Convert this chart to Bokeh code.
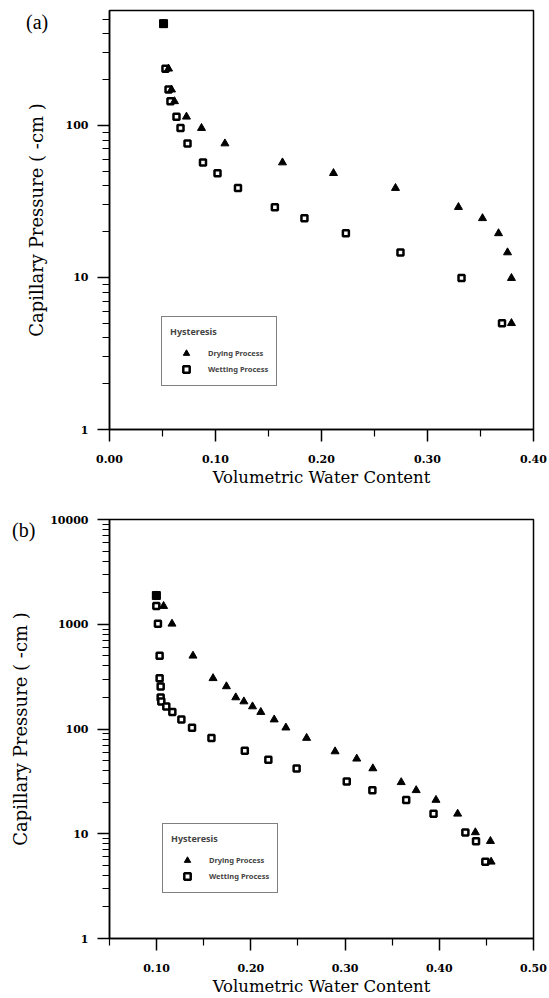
from bokeh.plotting import figure
from bokeh.models import Range1d, FixedTicker, NumeralTickFormatter, Legend, LegendItem, Div
from bokeh.layouts import column
from bokeh.embed import file_html
from bokeh.resources import INLINE

# ---------------- Panel (a) data ----------------
a_dry_x = [0.051, 0.0557, 0.0585, 0.0613, 0.0726, 0.0868, 0.1089, 0.1632, 0.2113, 0.2698,
           0.3292, 0.3519, 0.367, 0.3755, 0.3792, 0.3792]
a_dry_y = [467, 236, 172, 144, 114, 96, 76, 57, 48.5, 38.7, 29, 24.5, 19.5, 14.6, 9.9, 5.0]
a_wet_x = [0.051, 0.0528, 0.0557, 0.0575, 0.0632, 0.067, 0.0736, 0.0882, 0.1019, 0.1212,
           0.156, 0.1839, 0.223, 0.2745, 0.3321, 0.3703]
a_wet_y = [467, 236, 172, 144, 114, 96, 76, 57, 48.5, 38.7, 29, 24.5, 19.5, 14.6, 9.9, 5.0]

# ---------------- Panel (b) data ----------------
b_dry_x = [0.0997, 0.1074, 0.1163, 0.1386, 0.1599, 0.1741, 0.184, 0.1926, 0.2018, 0.2106,
           0.2248, 0.2372, 0.2592, 0.2894, 0.3124, 0.3295, 0.3596, 0.3755, 0.3965, 0.4195,
           0.4383, 0.4543, 0.455]
b_dry_y = [1880, 1490, 1010, 500, 305, 255, 200, 183, 164, 145, 123, 103, 82, 61, 52, 42,
           31, 26, 21, 15.5, 10.3, 8.5, 5.4]
b_wet_x = [0.0997, 0.0997, 0.1014, 0.1032, 0.1032, 0.1043, 0.1043, 0.105, 0.1103, 0.1167,
           0.1263, 0.1376, 0.1582, 0.1936, 0.2186, 0.2486, 0.3018, 0.329, 0.3649, 0.3939,
           0.4277, 0.439, 0.4489]
b_wet_y = [1880, 1490, 1010, 500, 305, 255, 200, 183, 164, 145, 123, 103, 82, 62, 51, 42,
           31.5, 26, 21, 15.5, 10.3, 8.5, 5.4]

a_xticks = [0.0, 0.1, 0.2, 0.3, 0.4]
a_xminor = [0.05, 0.15, 0.25, 0.35]
b_xticks = [0.1, 0.2, 0.3, 0.4, 0.5]
b_xminor = [0.05, 0.15, 0.25, 0.35, 0.45]
a_yticks = [1, 10, 100]
b_yticks = [1, 10, 100, 1000, 10000]

x_title = "Volumetric Water Content"
y_title = "Capillary Pressure ( -cm )"
legend_title = "Hysteresis"
dry_label = "Drying Process"
wet_label = "Wetting Process"

SERIF = "DejaVu Serif"
SANS = "Noto Sans"

H_A = 489
H_B = 509


def log_minor(decades):
    out = []
    for d in decades:
        for k in range(2, 10):
            out.append(k * 10 ** d)
    return out


def make_panel(xr, yr, xticks, xminor, yticks, ydecades, dry_x, dry_y, wet_x, wet_y,
               height, top, bottom, legend_loc):
    p = figure(width=547, height=height, y_axis_type="log",
               x_range=Range1d(*xr), y_range=Range1d(*yr),
               output_backend="svg", toolbar_location=None,
               min_border_left=109, min_border_right=14,
               min_border_top=top, min_border_bottom=bottom)
    p.grid.visible = False
    p.outline_line_color = "black"
    p.outline_line_width = 1.5
    p.background_fill_color = "white"
    p.border_fill_color = "white"

    p.xaxis.ticker = FixedTicker(ticks=xticks, minor_ticks=xminor)
    p.xaxis.formatter = NumeralTickFormatter(format="0.00")
    p.yaxis.ticker = FixedTicker(ticks=yticks, minor_ticks=log_minor(ydecades))
    p.yaxis.formatter = NumeralTickFormatter(format="0")

    for ax in (p.xaxis, p.yaxis):
        ax.axis_line_color = "black"
        ax.axis_line_width = 1.5
        ax.major_tick_in = 0
        ax.minor_tick_in = 0
        ax.major_tick_out = 12
        ax.minor_tick_out = 7
        ax.major_tick_line_width = 1.5
        ax.minor_tick_line_width = 1.2
        ax.major_tick_line_color = "black"
        ax.minor_tick_line_color = "black"
        ax.major_label_text_font = SERIF
        ax.major_label_text_font_style = "bold"
        ax.major_label_text_font_size = "11px"
        ax.major_label_text_color = "black"
        ax.axis_label_text_font = SERIF
        ax.axis_label_text_font_style = "normal"
        ax.axis_label_text_color = "black"
    p.xaxis.axis_label_text_font_size = "16.5px"
    p.yaxis.axis_label_text_font_size = "18px"
    p.xaxis.major_label_standoff = 13
    p.xaxis.axis_label_standoff = 2
    p.yaxis.major_label_standoff = 9
    p.yaxis.axis_label_standoff = 16
    p.xaxis.axis_label = x_title
    p.yaxis.axis_label = y_title

    sq = p.scatter(wet_x, wet_y, marker="square", size=6, fill_color="white",
                   line_color="black", line_width=2.5)
    tri = p.scatter(dry_x, dry_y, marker="triangle", size=8, fill_color="black",
                    line_color="black", line_width=1)
    # points shared by both processes show as a filled square
    dry_set = set(zip(dry_x, dry_y))
    both = [(x, y) for x, y in zip(wet_x, wet_y) if (x, y) in dry_set]
    if both:
        p.scatter([b[0] for b in both], [b[1] for b in both], marker="square", size=8,
                  fill_color="black", line_color="black", line_width=1)

    legend = Legend(items=[LegendItem(label=dry_label, renderers=[tri]),
                           LegendItem(label=wet_label, renderers=[sq])],
                    location=legend_loc, title=legend_title,
                    title_text_font=SANS, title_text_font_style="bold",
                    title_text_font_size="9px", title_standoff=7,
                    label_text_font=SANS, label_text_font_size="7.5px",
                    label_text_font_style="bold",
                    glyph_width=32, glyph_height=16, label_height=12, spacing=-2,
                    label_standoff=6, padding=8, margin=0,
                    border_line_color="black", border_line_width=1.5,
                    background_fill_color="white", background_fill_alpha=1.0)
    p.add_layout(legend)
    return p


pa = make_panel((0.0, 0.4), (1, 570), a_xticks, a_xminor, a_yticks, [0, 1, 2],
                a_dry_x, a_dry_y, a_wet_x, a_wet_y,
                height=H_A, top=10, bottom=60, legend_loc=(52, 43))
pb = make_panel((0.05, 0.5), (1, 10000), b_xticks, b_xminor, b_yticks, [0, 1, 2, 3],
                b_dry_x, b_dry_y, b_wet_x, b_wet_y,
                height=H_B, top=30, bottom=60, legend_loc=(53, 45))

TAG_STYLE = {"font-family": "'Liberation Serif', serif", "font-size": "20px",
             "color": "black", "line-height": "24px"}
# panel tags, overlaid at the upper left of each panel
tag_a = Div(text="(a)", width=40, height=24, styles=TAG_STYLE,
            margin=(10 - H_A, 0, H_A - 34, 26))
tag_b = Div(text="(b)", width=40, height=24, styles=TAG_STYLE,
            margin=(518 - H_A - H_B, 0, 0, 12))

layout = column(pa, tag_a, pb, tag_b, spacing=0)
open("out.html", "w").write(file_html(layout, INLINE))
